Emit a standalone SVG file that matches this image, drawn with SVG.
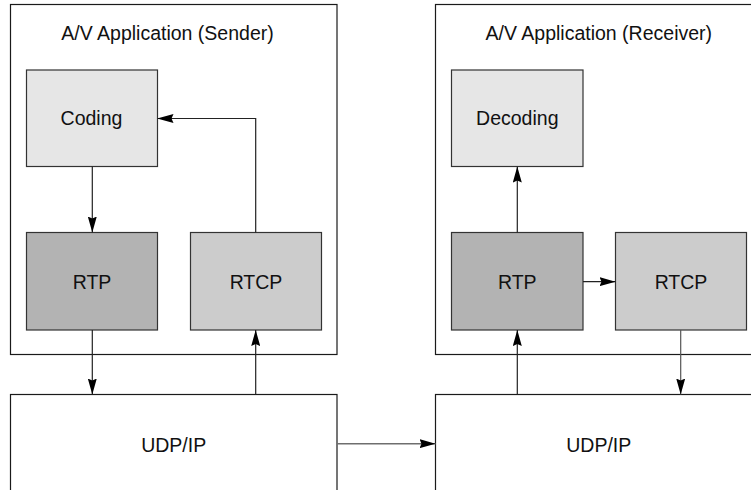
<svg xmlns="http://www.w3.org/2000/svg" width="751" height="490" viewBox="0 0 751 490">
  <style>
    .frame { fill: #ffffff; stroke: #1a1a1a; stroke-width: 1.2; }
    .coding { fill: #e6e6e6; stroke: #333333; stroke-width: 1.2; }
    .rtp { fill: #b3b3b3; stroke: #333333; stroke-width: 1.2; }
    .rtcp { fill: #cccccc; stroke: #333333; stroke-width: 1.2; }
    .label { font-family: "Liberation Sans", Arial, sans-serif; font-size: 19.5px; fill: #111111; text-anchor: middle; }
    .link { fill: none; stroke: #222222; stroke-width: 1.2; marker-end: url(#head); }
  </style>
  <defs>
    <marker id="head" viewBox="0 0 16 9" refX="16" refY="4.5" markerWidth="16" markerHeight="9" markerUnits="userSpaceOnUse" orient="auto">
      <path d="M0,0 L16,4.5 L0,9 L2,4.5 Z" fill="#000000"/>
    </marker>
  </defs>

  <!-- application frames -->
  <g id="sender-app">
    <rect class="frame" x="10.5" y="4.5" width="326.5" height="350"/>
    <text class="label" x="167.5" y="39.5">A/V Application (Sender)</text>
  </g>
  <g id="receiver-app">
    <rect class="frame" x="435.5" y="4.5" width="326.5" height="350"/>
    <text class="label" x="598.8" y="39.5">A/V Application (Receiver)</text>
  </g>

  <!-- sender side -->
  <g id="coding">
    <rect class="coding" x="26.5" y="70" width="131" height="96.5"/>
    <text class="label" x="91.5" y="125.3">Coding</text>
  </g>
  <g id="rtp-sender">
    <rect class="rtp" x="26.5" y="232.5" width="131" height="97.5"/>
    <text class="label" x="92" y="288.8">RTP</text>
  </g>
  <g id="rtcp-sender">
    <rect class="rtcp" x="190.5" y="232.5" width="131" height="97.5"/>
    <text class="label" x="256" y="288.8">RTCP</text>
  </g>
  <g id="udp-sender">
    <rect class="frame" x="10.5" y="394.5" width="326.5" height="110"/>
    <text class="label" x="173.7" y="452.3">UDP/IP</text>
  </g>

  <!-- receiver side -->
  <g id="decoding">
    <rect class="coding" x="451.5" y="70" width="131.5" height="96.5"/>
    <text class="label" x="517.3" y="125.3">Decoding</text>
  </g>
  <g id="rtp-receiver">
    <rect class="rtp" x="451.5" y="232.5" width="131.5" height="97.5"/>
    <text class="label" x="517.3" y="288.8">RTP</text>
  </g>
  <g id="rtcp-receiver">
    <rect class="rtcp" x="615.5" y="232.5" width="131" height="97.5"/>
    <text class="label" x="681" y="288.8">RTCP</text>
  </g>
  <g id="udp-receiver">
    <rect class="frame" x="435.5" y="394.5" width="326.5" height="110"/>
    <text class="label" x="598.8" y="452.3">UDP/IP</text>
  </g>

  <!-- connectors -->
  <g id="connectors">
    <path class="link" d="M92.3,166.5 V232.5"/>
    <path class="link" d="M255.7,232.5 V118.5 H157.5"/>
    <path class="link" d="M92.3,330 V394.5"/>
    <path class="link" d="M255.7,394.5 V330"/>
    <path class="link" d="M337,443.7 H435.5" style="stroke:#6e6e6e;stroke-width:1.4"/>
    <path class="link" d="M517.3,394.5 V330"/>
    <path class="link" d="M517.3,232.5 V166.5"/>
    <path class="link" d="M583,281.7 H615.5"/>
    <path class="link" d="M680.7,330 V394.5" style="stroke:#555555"/>
  </g>
</svg>
